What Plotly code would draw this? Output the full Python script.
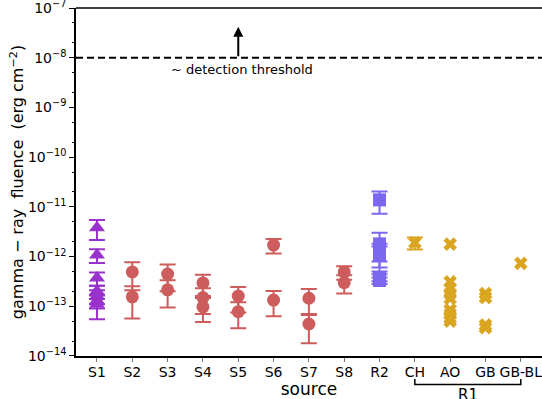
import math
import plotly.graph_objects as go

categories = ["S1", "S2", "S3", "S4", "S5", "S6", "S7", "S8", "R2", "CH", "AO", "GB", "GB-BL"]

s1_vals = [3.8e-12, 1.07e-12, 3.7e-13, 2.0e-13, 1.6e-13, 1.3e-13, 1.1e-13]
s1_errs = [1.65e-12, 0.33e-12, 1.1e-13, 0.6e-13, 0.5e-13, 0.4e-13, 0.55e-13]

s_names = ["S2", "S3", "S4", "S5", "S6", "S7", "S8"]
s_vals = [
    [4.9e-13, 1.55e-13],
    [4.45e-13, 2.14e-13],
    [2.95e-13, 1.5e-13, 0.97e-13],
    [1.6e-13, 0.78e-13],
    [1.7e-12, 1.33e-13],
    [1.45e-13, 0.44e-13],
    [4.9e-13, 3.0e-13],
]
s_errs = [
    [2.8e-13, 0.98e-13],
    [2.45e-13, 1.2e-13],
    [1.35e-13, 0.8e-13, 0.49e-13],
    [0.85e-13, 0.42e-13],
    [0.55e-12, 0.7e-13],
    [0.78e-13, 0.26e-13],
    [1.5e-13, 1.2e-13],
]

r2_vals = [1.38e-11, 1.8e-12, 1.3e-12, 1.05e-12, 3.8e-13, 3.3e-13]
r2_errs = [6.5e-12, 1.2e-12, 0.5e-12, 0.55e-12, 0.6e-13, 0.5e-13]

ch_vals = [1.9e-12]
ch_errs = [0.52e-12]
ao_vals = [1.78e-12, 3.1e-13, 2.3e-13, 1.8e-13, 1.44e-13, 8.5e-14, 7e-14, 5.8e-14, 5e-14]
gb_vals = [1.8e-13, 1.5e-13, 4.2e-14, 3.7e-14]
gbbl_vals = [7.3e-13]

y_exponents = [-14, -13, -12, -11, -10, -9, -8, -7]

threshold = 1e-8
arrow_top = 4.2e-8

C_S1 = "#9932CC"
C_S = "#CD5C5C"
C_R2 = "#7B68EE"
C_R1 = "#DAA520"

idx = {c: i for i, c in enumerate(categories)}

fig = go.Figure()


def add(name, vals, errs, color, symbol, size):
    kw = {}
    if errs is not None:
        kw["error_y"] = dict(type="data", array=errs, visible=True, color=color,
                             thickness=2, width=8)
    fig.add_trace(go.Scatter(
        x=[idx[name]] * len(vals), y=vals, mode="markers",
        marker=dict(color=color, symbol=symbol, size=size, line=dict(width=0)),
        showlegend=False, cliponaxis=False, **kw))


add("S1", s1_vals, s1_errs, C_S1, "triangle-up", 14)
for n, v, e in zip(s_names, s_vals, s_errs):
    add(n, v, e, C_S, "circle", 13)
add("R2", r2_vals, r2_errs, C_R2, "square", 13)
add("CH", ch_vals, ch_errs, C_R1, "x", 12)
add("AO", ao_vals, None, C_R1, "x", 12)
add("GB", gb_vals, None, C_R1, "x", 12)
add("GB-BL", gbbl_vals, None, C_R1, "x", 12)

fig.add_hline(y=threshold, line=dict(color="black", width=2, dash="7px,4px"))

fig.add_annotation(x=idx["S5"], y=math.log10(arrow_top), ax=idx["S5"], ay=math.log10(threshold),
                   xref="x", yref="y", axref="x", ayref="y", text="",
                   showarrow=True, arrowhead=2, arrowsize=1, arrowwidth=2, arrowcolor="black")
fig.add_annotation(x=2.05, y=-8.23, xref="x", yref="y", text="~ detection threshold",
                   showarrow=False, xanchor="left", yanchor="middle",
                   font=dict(size=13, color="black"))

# top frame line
fig.add_shape(type="line", xref="paper", yref="paper", x0=0, x1=1, y0=1, y1=1,
              line=dict(color="black", width=1.5))

# R1 bracket
fig.add_shape(type="path", xref="x", yref="paper",
              path=f"M {idx['CH']},-0.066 L {idx['CH']},-0.082 L {idx['GB-BL']},-0.082 L {idx['GB-BL']},-0.066",
              line=dict(color="black", width=1.5))
fig.add_annotation(x=(idx["CH"] + idx["GB-BL"]) / 2, y=-0.112, xref="x", yref="paper",
                   text="R1", showarrow=False, font=dict(size=15, color="black"),
                   yanchor="middle")

fig.update_layout(
    width=542, height=399,
    margin=dict(l=76, r=0, t=8, b=43, autoexpand=False),
    paper_bgcolor="white", plot_bgcolor="white",
    font=dict(family="DejaVu Sans", color="black"),
)
fig.update_xaxes(
    range=[-0.594, 12.6], tickvals=list(range(len(categories))), ticktext=categories,
    ticklabeloverflow="allow", ticklabelstandoff=-2,
    showline=True, linecolor="black", linewidth=1.5,
    ticks="outside", ticklen=4, tickcolor="#777", showgrid=False, zeroline=False,
    tickfont=dict(size=14), automargin=False,
    title=dict(text="source", font=dict(size=17), standoff=3),
)
fig.update_yaxes(
    type="log", range=[-14.0005, -6.9995],
    tickvals=[10 ** e for e in y_exponents],
    ticktext=[f"10<sup>\u2212{-e}</sup>" for e in y_exponents],
    ticklabeloverflow="allow",
    showline=True, linecolor="black", linewidth=1.5, mirror=False,
    ticks="outside", ticklen=5, tickcolor="black", showgrid=False, zeroline=False,
    tickfont=dict(size=14), automargin=False,
    minor=dict(ticks="outside", ticklen=2.5, tickcolor="black", showgrid=False),
    title=dict(text="gamma\u00a0\u2212\u00a0ray\u00a0\u00a0fluence\u00a0\u00a0(erg\u00a0cm<sup>\u22122</sup>)",
               font=dict(size=16), standoff=0),
)

fig.write_html("out.html", config={"displayModeBar": False},
               post_script="document.body.style.margin='0';document.body.style.overflow='hidden';")
